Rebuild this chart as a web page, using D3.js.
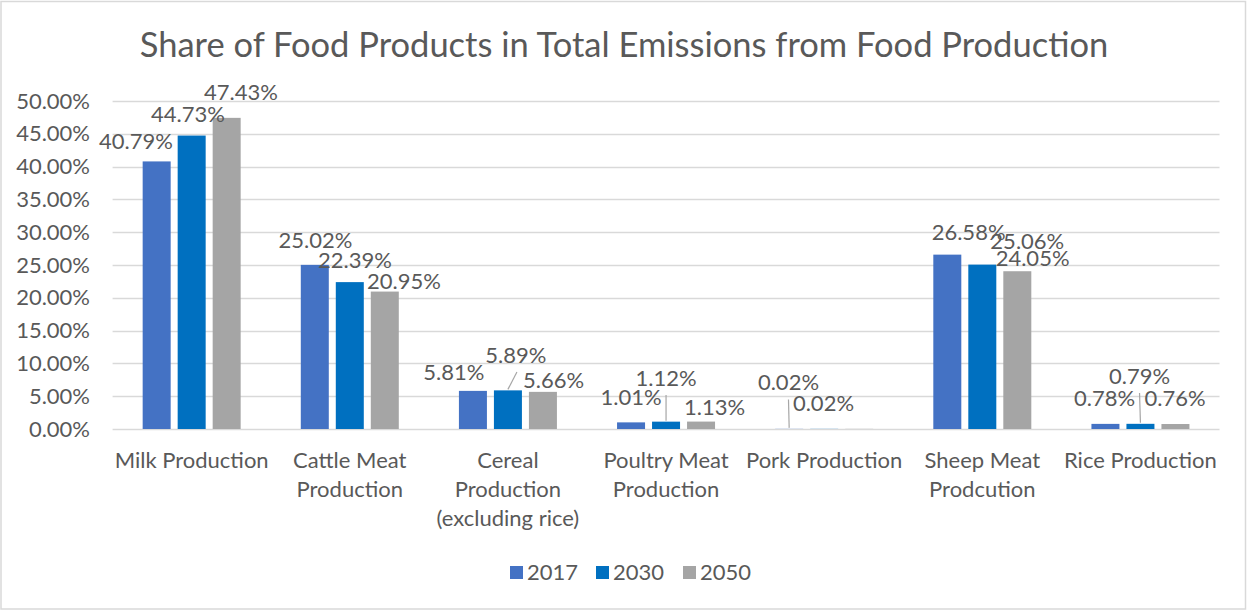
<!DOCTYPE html>
<html>
<head>
<meta charset="utf-8">
<script src="https://cdn.jsdelivr.net/npm/d3@7"></script>
<style>
  html, body { margin: 0; padding: 0; background: #fff; }
  svg { display: block; font-family: Lato, "Open Sans", sans-serif; }
</style>
</head>
<body>
<svg id="chart" width="1247" height="611"></svg>
<script>
// ---------- data ----------
const title = "Share of Food Products in Total Emissions from Food Production";
const categories = [
  "Milk Production",
  "Cattle Meat Production",
  "Cereal Production (excluding rice)",
  "Poultry Meat Production",
  "Pork Production",
  "Sheep Meat Prodcution",
  "Rice Production"
];
const years = ["2017", "2030", "2050"];
const values2017 = [40.79, 25.02, 5.81, 1.01, 0.02, 26.58, 0.78];
const values2030 = [44.73, 22.39, 5.89, 1.12, 0.02, 25.06, 0.79];
const values2050 = [47.43, 20.95, 5.66, 1.13, 0.02, 24.05, 0.76];
const yTicks = [0, 5, 10, 15, 20, 25, 30, 35, 40, 45, 50];

// ---------- styling ----------
const colors = ["#4472C4", "#0070C0", "#A5A5A5"];
const textColor = "#595959";
const gridColor = "#D9D9D9";
const fontSize = "22px";
// manual label nudges (px) relative to default position above bar; null = label hidden
const labelNudges = [
  [[-20.7, 1], [-3.7, 0], [14.3, -5]],
  [[0.7, -4], [5.2, -0.6], [19.2, 11]],
  [[-19, 2], [8, -14.4], [10.6, 9]],
  [[0, -4.4], [0, -22.7], [13.5, 6.4]],
  [[-0.7, -25.4], [-0.7, -4.9], null],
  [[21.3, -1.6], [45, -2.6], [15.3, 7.5]],
  [[-0.9, -4.9], [-0.9, -26.8], [-0.4, -5]]
];
const leaders = [[2, 1], [3, 1], [4, 0], [6, 1]];

const series = [values2017, values2030, values2050];
const svg = d3.select("#chart");

// border
svg.append("rect").attr("x", 1).attr("y", 1.5).attr("width", 1244.5).attr("height", 607.5)
  .attr("fill", "#fff").attr("stroke", gridColor).attr("stroke-width", 1.5);

// title
svg.append("text").attr("x", 624).attr("y", 57).attr("text-anchor", "middle")
  .attr("fill", textColor).style("font-size", "34.5px").text(title);

// scales
const plotLeft = 112.6, plotRight = 1219.5, plotTop = 101, plotBottom = 429;
const x0 = d3.scaleBand().domain(categories).range([plotLeft, plotRight]).padding(0);
const x1 = d3.scaleBand().domain(years).range([0, 105]).paddingInner(0.2).paddingOuter(0.1);
const y = d3.scaleLinear().domain([0, 50]).range([plotBottom, plotTop]);

// gridlines
svg.append("g").selectAll("line").data(yTicks).join("line")
  .attr("x1", plotLeft).attr("x2", plotRight)
  .attr("y1", d => Math.round(y(d)) + 0.5).attr("y2", d => Math.round(y(d)) + 0.5)
  .attr("stroke", gridColor).attr("stroke-width", 1.3);

// y axis labels
const yAxis = d3.axisLeft(y).tickValues(yTicks).tickFormat(d => d.toFixed(2) + "%").tickSize(0).tickPadding(0);
const yg = svg.append("g").attr("transform", "translate(90,0)").call(yAxis);
yg.select(".domain").remove();
yg.selectAll("text").attr("fill", textColor).style("font-size", fontSize)
  .style("font-family", "Lato, 'Open Sans', sans-serif");

// bars
const groupOffset = c => x0(c) + x0.bandwidth() / 2 - 52.5;
const barCx = (ci, si) => groupOffset(categories[ci]) + x1(years[si]) + x1.bandwidth() / 2;

series.forEach((vals, si) => {
  svg.append("g").selectAll("rect").data(vals).join("rect")
    .attr("x", (d, ci) => groupOffset(categories[ci]) + x1(years[si]))
    .attr("width", x1.bandwidth())
    .attr("y", d => y(d))
    .attr("height", d => y(0) - y(d))
    .attr("fill", colors[si]);
});

// leader lines
leaders.forEach(([ci, si]) => {
  const v = series[si][ci];
  const n = labelNudges[ci][si];
  const lx = barCx(ci, si) + n[0];
  const ly = y(v) - 21 + n[1];
  svg.append("line")
    .attr("x1", lx + (ci === 2 ? 1 : 0)).attr("y1", ly + 17)
    .attr("x2", barCx(ci, si)).attr("y2", y(v) - 1)
    .attr("stroke", "#A6A6A6").attr("stroke-width", 1.2);
});

// data labels
series.forEach((vals, si) => {
  vals.forEach((v, ci) => {
    const n = labelNudges[ci][si];
    if (!n) return;
    svg.append("text")
      .attr("x", barCx(ci, si) + n[0])
      .attr("y", y(v) - 21 + n[1])
      .attr("dy", "0.36em")
      .attr("text-anchor", "middle")
      .attr("fill", textColor).style("font-size", fontSize)
      .text(v.toFixed(2) + "%");
  });
});

// category labels (wrapped)
const catG = svg.append("g");
categories.forEach(c => {
  const t = catG.append("text").attr("text-anchor", "middle").attr("fill", textColor)
    .style("font-size", fontSize);
  const cx = x0(c) + x0.bandwidth() / 2;
  const words = c.split(" ");
  let lines = [], cur = [];
  const probe = svg.append("text").style("font-size", fontSize);
  words.forEach(w => {
    const test = cur.concat([w]).join(" ");
    probe.text(test);
    if (cur.length && probe.node().getComputedTextLength() > x0.bandwidth() * 1.04) {
      lines.push(cur.join(" "));
      cur = [w];
    } else cur.push(w);
  });
  lines.push(cur.join(" "));
  probe.remove();
  lines.forEach((l, i) => {
    t.append("tspan").attr("x", cx).attr("y", 460 + i * 29).attr("dy", "0.36em").text(l);
  });
});

// legend
const legendX = [510, 596, 683];
years.forEach((yr, i) => {
  svg.append("rect").attr("x", legendX[i]).attr("y", 566).attr("width", 13).attr("height", 13)
    .attr("fill", colors[i]);
  svg.append("text").attr("x", legendX[i] + 17).attr("y", 572.5).attr("dy", "0.36em")
    .attr("fill", textColor).style("font-size", fontSize).text(yr);
});
</script>
</body>
</html>
